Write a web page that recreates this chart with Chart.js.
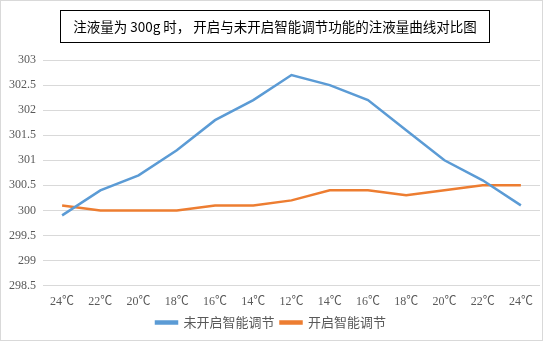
<!DOCTYPE html>
<html>
<head>
<meta charset="utf-8">
<script src="https://cdn.jsdelivr.net/npm/chart.js@4.4.1/dist/chart.umd.min.js"></script>
<style>
  html, body { margin: 0; padding: 0; background: #fff; }
  #wrap { position: relative; width: 541px; height: 339px; border: 1px solid #d9d9d9; }
  #title {
    position: absolute; left: 59px; top: 9px; width: 428px; height: 31px;
    border: 1px solid #000; box-sizing: content-box;
    font-family: "Noto Sans CJK SC", sans-serif; font-size: 13.5px; color: #000;
    line-height: 31px; text-align: center; white-space: nowrap;
  }
  canvas { position: absolute; left: 0; top: 0; }
</style>
</head>
<body>
<div id="wrap">
  <canvas id="chart" width="541" height="339"></canvas>
  <div id="title">注液量为 300g 时， 开启与未开启智能调节功能的注液量曲线对比图</div>
</div>
<script>
const temps = ["24℃", "22℃", "20℃", "18℃", "16℃", "14℃", "12℃", "14℃", "16℃", "18℃", "20℃", "22℃", "24℃"];
const withoutAdjust = [299.9, 300.4, 300.7, 301.2, 301.8, 302.2, 302.7, 302.5, 302.2, 301.6, 301.0, 300.6, 300.1];
const withAdjust = [300.1, 300.0, 300.0, 300.0, 300.1, 300.1, 300.2, 300.4, 300.4, 300.3, 300.4, 300.5, 300.5];
const seriesNames = ["未开启智能调节", "开启智能调节"];

const labelFont = { family: "'Liberation Serif', 'Noto Sans CJK SC', serif", size: 12 };

const ctx = document.getElementById("chart").getContext("2d");
window.lineChart = new Chart(ctx, {
  type: "line",
  data: {
    labels: temps,
    datasets: [
      {
        label: seriesNames[0],
        data: withoutAdjust,
        borderColor: "#5b9bd5",
        backgroundColor: "#5b9bd5",
        borderWidth: 2.5,
        pointRadius: 0,
        tension: 0,
      },
      {
        label: seriesNames[1],
        data: withAdjust,
        borderColor: "#ed7d31",
        backgroundColor: "#ed7d31",
        borderWidth: 2.5,
        pointRadius: 0,
        tension: 0,
      },
    ],
  },
  options: {
    responsive: false,
    animation: false,
    layout: { padding: { top: 59, right: 2, left: 1, bottom: 1 } },
    plugins: {
      title: { display: false },
      tooltip: { enabled: false },
      legend: {
        position: "bottom",
        labels: {
          boxWidth: 21,
          boxHeight: 2,
          padding: 6,
          color: "#595959",
          font: { family: "'Noto Sans CJK SC', sans-serif", size: 13 },
        },
      },
    },
    scales: {
      x: {
        offset: true,
        grid: { display: false },
        border: { display: false },
        ticks: { color: "#595959", font: labelFont, maxRotation: 0, autoSkip: false, padding: 1 },
      },
      y: {
        min: 298.5,
        max: 303,
        grid: { color: "#d9d9d9", drawTicks: false },
        border: { display: false },
        ticks: {
          stepSize: 0.5,
          color: "#595959",
          font: labelFont,
          padding: 7,
          callback: (v) => String(Math.round(v * 10) / 10),
        },
      },
    },
  },
});
</script>
</body>
</html>
